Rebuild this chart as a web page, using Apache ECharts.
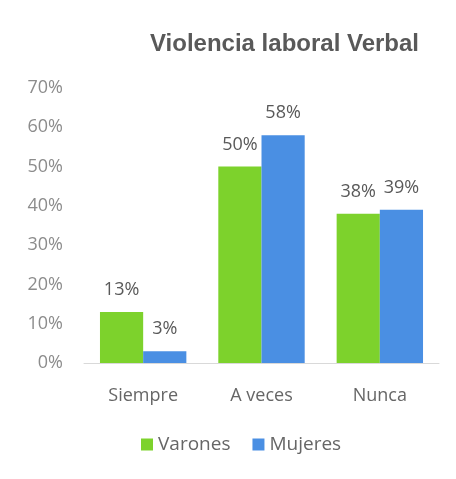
<!DOCTYPE html>
<html>
<head>
<meta charset="utf-8">
<script src="https://cdn.jsdelivr.net/npm/echarts@6/dist/echarts.min.js"></script>
<style>
  html, body { margin: 0; padding: 0; background: #fff; }
  #chart { width: 456px; height: 479px; }
</style>
</head>
<body>
<div id="chart"></div>
<script>
const categories = ['Siempre', 'A veces', 'Nunca'];
const varones = [13, 50, 38];
const mujeres = [3, 58, 39];
const yTicks = [0, 10, 20, 30, 40, 50, 60, 70];

const chart = echarts.init(document.getElementById('chart'));
const labelStyle = {
    show: true,
    position: 'top',
    distance: 13,
    formatter: p => p.value + '%',
    color: '#595959',
    fontFamily: 'Open Sans',
    fontSize: 18,
};

chart.setOption({
    title: {
        text: 'Violencia laboral Verbal',
        left: 145,
        top: 27,
        textStyle: { fontFamily: 'Liberation Sans', fontWeight: 'bold', fontSize: 24, color: '#595959' },
    },
    legend: {
        data: ['Varones', 'Mujeres'],
        left: 136,
        top: 430,
        itemWidth: 12,
        itemHeight: 12,
        itemGap: 22,
        icon: 'rect',
        textStyle: { fontFamily: 'Open Sans', fontSize: 19, color: '#666666' },
    },
    grid: { left: 84, right: 17, top: 88, bottom: 116 },
    xAxis: {
        type: 'category',
        data: categories,
        axisLine: { lineStyle: { color: '#d9d9d9' } },
        axisTick: { show: false },
        axisLabel: { margin: 24, fontFamily: 'Open Sans', fontSize: 18, color: '#666666' },
    },
    yAxis: {
        type: 'value',
        min: yTicks[0],
        max: yTicks[yTicks.length - 1],
        interval: 10,
        splitLine: { show: false },
        axisLine: { show: false },
        axisTick: { show: false },
        axisLabel: { margin: 21, formatter: v => v + '%', fontFamily: 'Open Sans', fontSize: 18, color: '#8c8c8c' },
    },
    series: [
        { name: 'Varones', type: 'bar', data: varones, barGap: '0%', barCategoryGap: '27%', itemStyle: { color: '#7dd22c' }, label: labelStyle },
        { name: 'Mujeres', type: 'bar', data: mujeres, barGap: '0%', barCategoryGap: '27%', itemStyle: { color: '#4a8fe3' }, label: labelStyle },
    ],
});
</script>
</body>
</html>
